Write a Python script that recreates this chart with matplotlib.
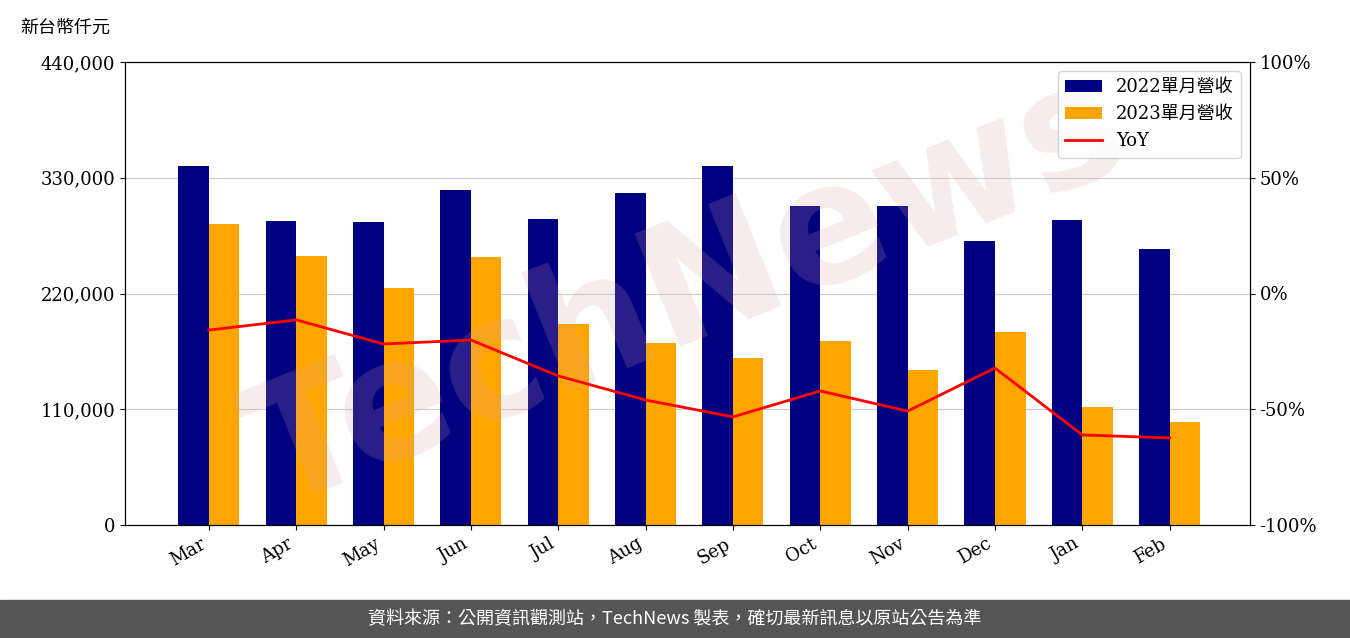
import matplotlib
matplotlib.use("Agg")
import matplotlib.pyplot as plt
import numpy as np
from matplotlib.ticker import FuncFormatter

months = ["Mar","Apr","May","Jun","Jul","Aug","Sep","Oct","Nov","Dec","Jan","Feb"]
rev2022 = [341200,288900,288000,318400,290800,315500,341200,303200,303200,269900,289900,262300]
rev2023 = [286100,255700,225200,254700,191000,173000,158700,174900,147300,183400,112100,97900]
yoy = [-15.8,-11.4,-21.8,-20.1,-35.6,-46.0,-53.3,-42.1,-50.8,-32.2,-61.1,-62.4]

plt.rcParams['font.family'] = ['DejaVu Serif', 'Noto Sans CJK TC']
fig = plt.figure(figsize=(13.5, 6.38), dpi=100)
ax = fig.add_axes([125/1350, 1-525/638, 1125/1350, 463/638])
x = np.arange(len(months))
w = 0.35
ax.bar(x - w/2, rev2022, w, color='#000080', label='2022單月營收', zorder=2)
ax.bar(x + w/2, rev2023, w, color='#FFA500', label='2023單月營收', zorder=2)
ax.set_ylim(0, 440000)
ax.set_yticks([0,110000,220000,330000,440000])
ax.yaxis.set_major_formatter(FuncFormatter(lambda v, p: f"{int(v):,}"))
ax.grid(axis='y', color='#cccccc', zorder=0)
ax.set_xticks(x)
ax.set_xticklabels(months, rotation=30, ha='right')
ax.set_xlim(-0.96, 11.92)
ax.tick_params(labelsize=13)
ax.text(0.5, 0.5, 'TechNews', fontsize=120, color='#d9a0a0', alpha=0.2, rotation=22,
        ha='center', va='center', family='DejaVu Sans', fontweight='bold', transform=ax.transAxes, zorder=3)
ax2 = ax.twinx()
ax2.plot(x, yoy, color='red', lw=2, label='YoY')
ax2.set_ylim(-100, 100)
ax2.set_yticks([-100,-50,0,50,100])
ax2.yaxis.set_major_formatter(FuncFormatter(lambda v, p: f"{int(v)}%"))
ax2.tick_params(labelsize=13)
h1, l1 = ax.get_legend_handles_labels()
h2, l2 = ax2.get_legend_handles_labels()
ax2.legend(h1+h2, l1+l2, loc='upper right', prop={'family':['DejaVu Serif','Noto Sans CJK TC'],'size':13})
fig.text(20/1350, 1-28/638, '新台幣仟元', fontsize=13, family=['Noto Sans CJK TC'], va='center')
fig.patches.append(plt.Rectangle((0, 0), 1, 38/638, transform=fig.transFigure, color='#555555', zorder=0))
fig.text(0.5, 19/638, '資料來源：公開資訊觀測站，TechNews 製表，確切最新訊息以原站公告為準',
         color='white', fontsize=13, ha='center', va='center', family=['Noto Sans CJK TC'])
fig.savefig('out.png', dpi=100)
